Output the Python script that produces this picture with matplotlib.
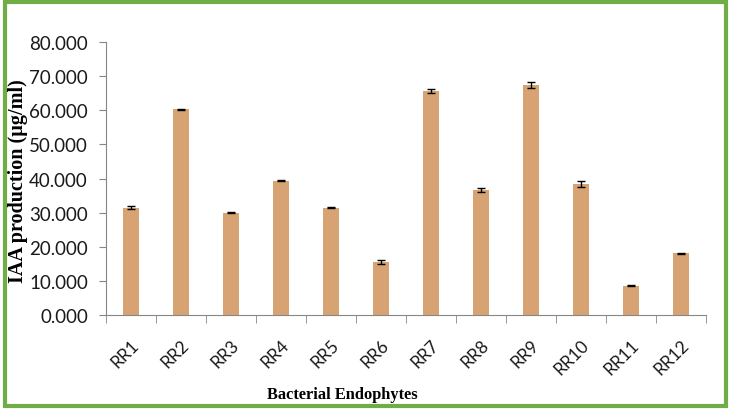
import numpy as np
import matplotlib.pyplot as plt
from matplotlib.patches import Rectangle

# Data
isolates = ['RR1', 'RR2', 'RR3', 'RR4', 'RR5', 'RR6',
            'RR7', 'RR8', 'RR9', 'RR10', 'RR11', 'RR12']
iaa = [31.5, 60.3, 30.0, 39.4, 31.5, 15.5, 65.6, 36.7, 67.4, 38.4, 8.6, 18.1]
iaa_err = [0.5, 0.2, 0.2, 0.2, 0.2, 0.5, 0.5, 0.6, 0.8, 0.8, 0.2, 0.2]
yticks = [0, 10, 20, 30, 40, 50, 60, 70, 80]

bar_color = '#D8A373'
axis_color = '#868686'
tick_font = 'Lato'

fig = plt.figure(figsize=(7.31, 4.10), dpi=100)
ax = fig.add_axes([0.145, 0.229, 0.821, 0.666])

x = np.arange(len(isolates))
ax.bar(x, iaa, width=0.32, color=bar_color, zorder=2)
ax.errorbar(x, iaa, yerr=iaa_err, fmt='none', ecolor='black',
            elinewidth=1, capsize=3, capthick=1, zorder=3)

ax.set_xlim(-0.5, len(isolates) - 0.5)
ax.set_ylim(0, 80)
ax.set_yticks(yticks)
ax.set_yticklabels([f'{v:.3f}' for v in yticks], fontfamily=tick_font,
                   fontsize=13.5, color='#1a1a1a')

ax.set_xticks(x)
ax.set_xticklabels(isolates, rotation=45, ha='right', va='top',
                   rotation_mode='anchor', fontfamily=tick_font, fontsize=12.5,
                   color='#1a1a1a')
ax.set_xticks(np.arange(-0.5, len(isolates)), minor=True)
ax.tick_params(axis='x', which='major', length=0, pad=15)
ax.tick_params(axis='x', which='minor', length=6, color=axis_color, direction='out')
ax.tick_params(axis='y', length=5, color=axis_color, pad=8)

for side in ['top', 'right']:
    ax.spines[side].set_visible(False)
for side in ['left', 'bottom']:
    ax.spines[side].set_color(axis_color)

fig.text(0.024, 0.558, 'IAA production (µg/ml)', rotation=90, ha='center', va='center',
         fontfamily='Liberation Serif', fontweight='bold', fontsize=14.5)
fig.text(0.468, 0.037, 'Bacterial Endophytes', ha='center', va='center',
         fontfamily='Liberation Serif', fontweight='bold', fontsize=11.8)

# green frame around the figure
fig.patches.append(Rectangle((0.007, 0.008), 0.986, 0.985, transform=fig.transFigure,
                             fill=False, edgecolor='#70AD47', linewidth=3))

fig.savefig('out.png', dpi=100)
